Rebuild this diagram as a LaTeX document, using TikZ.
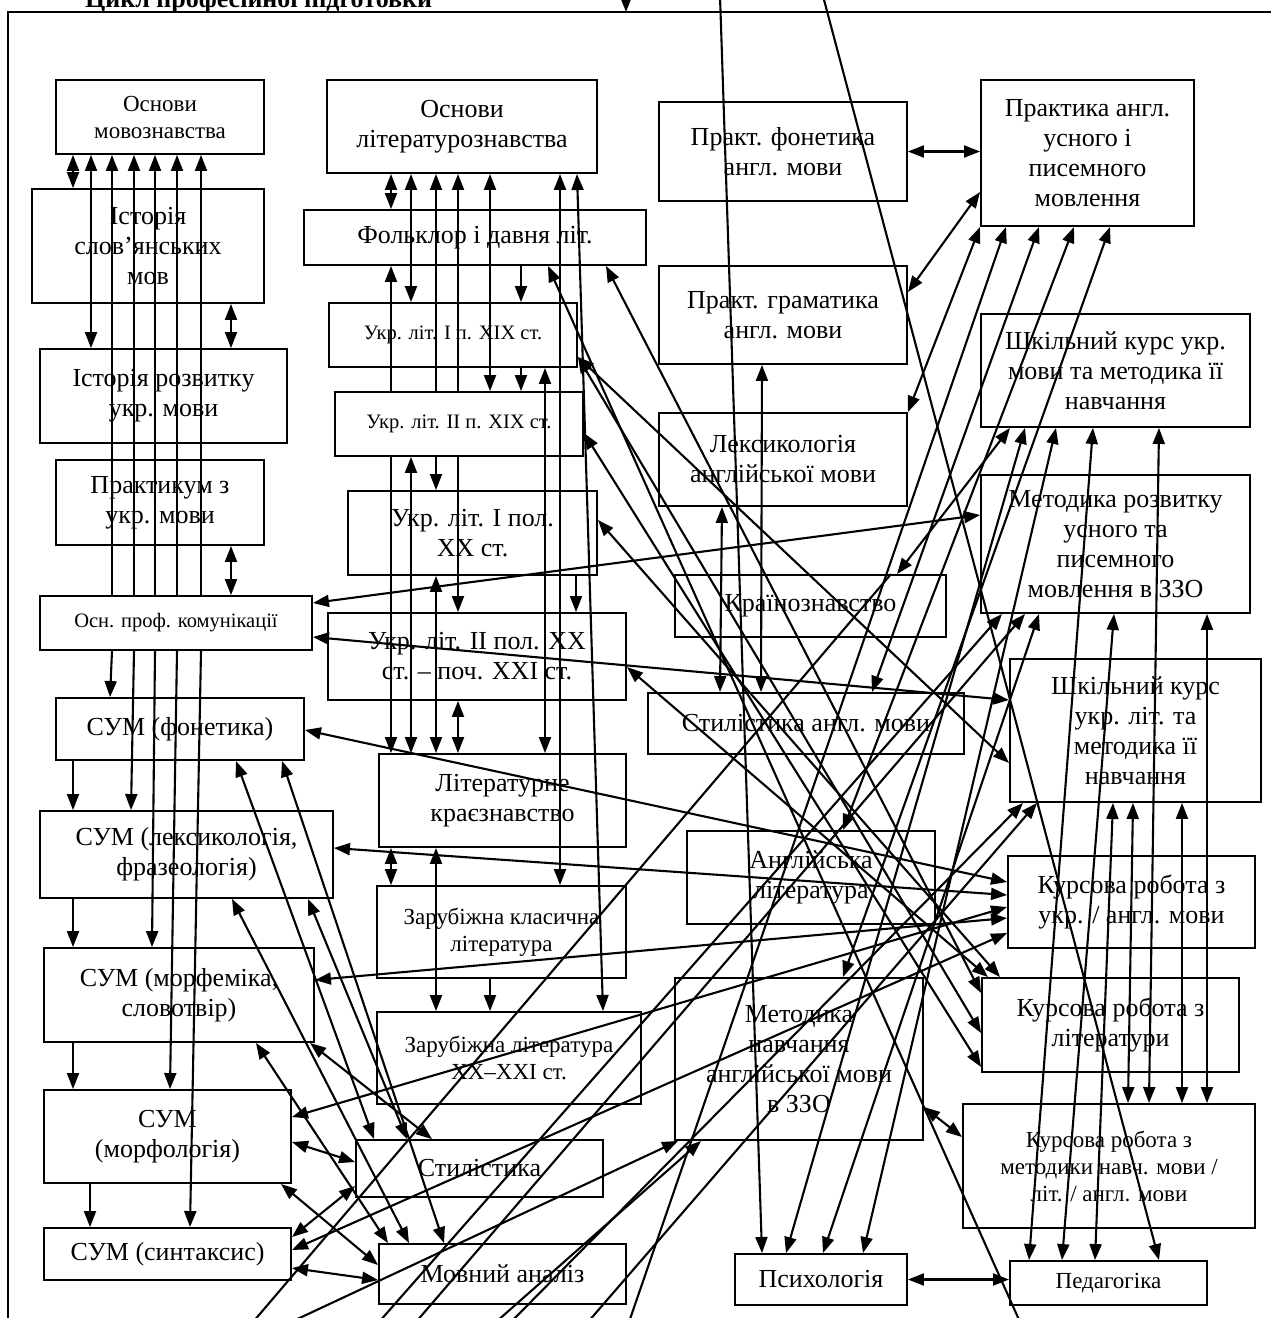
\documentclass[tikz,border=0pt]{standalone}
\usepackage{fontspec}
\setmainfont{Liberation Serif}
\usetikzlibrary{arrows.meta}
\tikzstyle{box}=[draw,line width=1.9pt,align=center,inner sep=1pt,font=\fontsize{26}{30}\selectfont]
\tikzstyle{mid}=[font=\fontsize{23}{27}\selectfont]
\tikzstyle{sml}=[font=\fontsize{20.5}{25}\selectfont]
\tikzstyle{link}=[line width=2.1pt,>={Triangle[length=16pt,width=12pt]}]

\begin{document}
\begin{tikzpicture}[x=1pt,y=-1pt]
\useasboundingbox (0,0) rectangle (1271,1318);

% frame and title
\draw[line width=1.9pt] (8,1330) -- (8,12) -- (1280,12);
\node[anchor=base west,inner sep=0pt,font=\bfseries\fontsize{26}{30}\selectfont] (title) at (85,7) {Цикл професійної підготовки};

% language column
\node[box,mid,minimum width=208pt,minimum height=74pt] (om) at (160,117) {Основи\\мовознавства};
\node[box,minimum width=232pt,minimum height=114pt] (ism) at (148,246) {Історія\\слов’янських\\мов};
\node[box,minimum width=247pt,minimum height=94pt] (ir) at (163.5,396) {Історія розвитку\\укр. мови};
\node[box,minimum width=208pt,minimum height=85pt] (pr) at (160,502.5) {Практикум з\\укр. мови};
\node[box,sml,fill=white,minimum width=272pt,minimum height=54pt] (opk) at (176,623) {Осн. проф. комунікації};
\node[box,minimum width=248pt,minimum height=62pt] (sfon) at (180,729) {СУМ (фонетика)};
\node[box,minimum width=293pt,minimum height=87pt] (slex) at (186.5,854.5) {СУМ (лексикологія,\\фразеологія)};
\node[box,minimum width=270pt,minimum height=94pt] (smfm) at (179,995) {СУМ (морфеміка,\\словотвір)};
\node[box,minimum width=247pt,minimum height=93pt] (smrf) at (167.5,1136.5) {СУМ\\(морфологія)};
\node[box,minimum width=247pt,minimum height=52pt] (ssyn) at (167.5,1254) {СУМ (синтаксис)};

% literature column
\node[box,minimum width=270pt,minimum height=93pt] (ol) at (462,126.5) {Основи\\літературознавства};
\node[box,minimum width=342pt,minimum height=55pt] (folk) at (475,237.5) {Фольклор і давня літ.};
\node[box,sml,minimum width=248pt,minimum height=64pt] (u19a) at (453,335) {Укр. літ. I п. XIX ст.};
\node[box,sml,minimum width=248pt,minimum height=64pt] (u19b) at (459,424) {Укр. літ. II п. XIX ст.};
\node[box,minimum width=249pt,minimum height=84pt] (u20a) at (472.5,533) {Укр. літ. I пол.\\XX ст.};
\node[box,minimum width=298pt,minimum height=87pt] (u20b) at (477,656.5) {Укр. літ. II пол. XX\\ст. – поч. XXI ст.};
\node[box,minimum width=247pt,minimum height=93pt] (lk) at (502.5,800.5) {Літературне\\краєзнавство};
\node[box,mid,minimum width=249pt,minimum height=92pt] (zkl) at (501.5,932) {Зарубіжна класична\\література};
\node[box,mid,minimum width=264pt,minimum height=92pt] (zxx) at (509,1058) {Зарубіжна література\\XX–XXI ст.};
\node[box,minimum width=247pt,minimum height=57pt] (styl) at (479.5,1168.5) {Стилістика};
\node[box,minimum width=247pt,minimum height=60pt] (ma) at (502.5,1274) {Мовний аналіз};

% english column
\node[box,minimum width=248pt,minimum height=99pt] (pf) at (783,151.5) {Практ. фонетика\\англ. мови};
\node[box,minimum width=248pt,minimum height=98pt] (pg) at (783,315) {Практ. граматика\\англ. мови};
\node[box,minimum width=248pt,minimum height=93pt] (lex) at (783,459.5) {Лексикологія\\англійської мови};
\node[box,minimum width=271pt,minimum height=62pt] (kr) at (810.5,606) {Країнознавство};
\node[box,minimum width=316pt,minimum height=61pt] (sa) at (806,723.5) {Стилістика англ. мови};
\node[box,minimum width=248pt,minimum height=93pt] (al) at (811,877.5) {Англійська\\література};
\node[box,minimum width=248pt,minimum height=162pt] (mn) at (799,1059) {Методика\\навчання\\англійської мови\\в ЗЗО};
\node[box,minimum width=172pt,minimum height=51pt] (psy) at (821,1279.5) {Психологія};

% methods column
\node[box,minimum width=213pt,minimum height=146pt] (pa) at (1087.5,153) {Практика англ.\\усного і\\писемного\\мовлення};
\node[box,minimum width=269pt,minimum height=113pt] (skm) at (1115.5,370.5) {Шкільний курс укр.\\мови та методика її\\навчання};
\node[box,minimum width=269pt,minimum height=138pt] (mr) at (1115.5,544) {Методика розвитку\\усного та\\писемного\\мовлення в ЗЗО};
\node[box,minimum width=251pt,minimum height=143pt] (skl) at (1135.5,730.5) {Шкільний курс\\укр. літ. та\\методика її\\навчання};
\node[box,minimum width=247pt,minimum height=92pt] (kua) at (1131.5,902) {Курсова робота з\\укр. / англ. мови};
\node[box,minimum width=257pt,minimum height=94pt] (kl) at (1110.5,1025) {Курсова робота з\\літератури};
\node[box,mid,minimum width=292pt,minimum height=124pt] (km) at (1109,1166) {Курсова робота з\\методики навч. мови /\\літ. / англ. мови};
\node[box,mid,minimum width=197pt,minimum height=44pt] (ped) at (1108.5,1283) {Педагогіка};

% free ends at the cut edges
\coordinate (t0) at (626,-4);
\coordinate (fr) at (626,12);
\coordinate (t1) at (720,-4);
\coordinate (t2) at (823,-4);
\coordinate (b1) at (253,1322);
\coordinate (b2) at (291,1322);
\coordinate (b3) at (379,1322);
\coordinate (b4) at (416,1322);
\coordinate (b5) at (496,1322);
\coordinate (b6) at (511,1322);
\coordinate (b7) at (588,1322);
\coordinate (b8) at (629,1322);
\coordinate (b9) at (1020,1322);

\draw[link,->] (t0) -- (fr);

% language column links
\draw[link,<->] (73,0 |- om.south) -- (73,0 |- ism.north);
\draw[link,<->] (91,0 |- om.south) -- (91,0 |- ir.north);
\foreach \xa/\xb/\t in {112/110/sfon,134/131/slex,155/152/smfm,177/170/smrf,201/190/ssyn}{
  \draw[link,<-] (\xa,0 |- om.south) -- (\xa,0 |- opk.north);
  \draw[link,->] (\xa,0 |- opk.south) -- (\xb,0 |- \t.north);
}
\draw[link,<->] (231,0 |- ism.south) -- (231,0 |- ir.north);
\draw[link,<->] (231,0 |- pr.south) -- (231,0 |- opk.north);
\draw[link,->] (73,0 |- sfon.south) -- (73,0 |- slex.north);
\draw[link,->] (73,0 |- slex.south) -- (73,0 |- smfm.north);
\draw[link,->] (73,0 |- smfm.south) -- (73,0 |- smrf.north);
\draw[link,->] (90,0 |- smrf.south) -- (90,0 |- ssyn.north);

% literature column links
\draw[link,<->] (391,0 |- ol.south) -- (391,0 |- folk.north);
\draw[link,<->] (411,0 |- ol.south) -- (411,0 |- u19a.north);
\draw[link,<-] (436,0 |- ol.south) -- (436,0 |- u19b.north);
\draw[link,->] (436,0 |- u19b.south) -- (436,0 |- u20a.north);
\draw[link,<-] (458,0 |- ol.south) -- (458,0 |- u19b.north);
\draw[link,->] (458,0 |- u19b.south) -- (458,0 |- u20b.north);
\draw[link,<->] (490,0 |- ol.south) -- (490,0 |- u19b.north);
\draw[link,<->] (560,0 |- ol.south) -- (560,0 |- zkl.north);
\draw[link,<->] (577,0 |- ol.south) -- (603,0 |- zxx.north);
\draw[link,<-] (391,0 |- folk.south) -- (391,0 |- u19b.north);
\draw[link,->] (391,0 |- u19b.south) -- (391,0 |- lk.north);
\draw[link,->] (521,0 |- folk.south) -- (521,0 |- u19a.north);
\draw[link,->] (521,0 |- u19a.south) -- (521,0 |- u19b.north);
\draw[link,<->] (545,0 |- u19a.south) -- (545,0 |- lk.north);
\draw[link,<->] (411,0 |- u19b.south) -- (411,0 |- lk.north);
\draw[link,<->] (436,0 |- u20a.south) -- (436,0 |- lk.north);
\draw[link,->] (576,0 |- u20a.south) -- (576,0 |- u20b.north);
\draw[link,<->] (458,0 |- u20b.south) -- (458,0 |- lk.north);
\draw[link,<->] (391,0 |- lk.south) -- (391,0 |- zkl.north);
\draw[link,<->] (436,0 |- lk.south) -- (436,0 |- zxx.north);
\draw[link,->] (490,0 |- zkl.south) -- (490,0 |- zxx.north);

% language courses to stylistics and analysis
\draw[link,<->] (236,0 |- sfon.south) -- (374,0 |- styl.north);
\draw[link,<->] (282,0 |- sfon.south) -- (444,0 |- ma.north);
\draw[link,<->] (232,0 |- slex.south) -- (409,0 |- ma.north);
\draw[link,<->] (308,0 |- slex.south) -- (407,0 |- styl.north);
\draw[link,<->] (256,0 |- smfm.south) -- (388,0 |- ma.north);
\draw[link,<->] (310,0 |- smfm.south) -- (432,0 |- styl.north);
\draw[link,<->] (smrf.east |- 0,1142) -- (styl.west |- 0,1162);
\draw[link,<->] (281,0 |- smrf.south) -- (ma.west |- 0,1265);
\draw[link,<->] (ssyn.east |- 0,1237) -- (styl.west |- 0,1186);
\draw[link,<->] (ssyn.east |- 0,1268) -- (ma.west |- 0,1280);

% language courses to course work
\draw[link,<->] (sfon.east |- 0,730) -- (kua.west |- 0,882);
\draw[link,<->] (slex.east |- 0,848) -- (kua.west |- 0,895);
\draw[link,<->] (smrf.east |- 0,1117) -- (kua.west |- 0,907);
\draw[link,<->] (smfm.east |- 0,980) -- (kua.west |- 0,918);
\draw[link,<->] (ssyn.east |- 0,1250) -- (kua.west |- 0,933);
\draw[link,<->] (opk.east |- 0,603) -- (mr.west |- 0,515);
\draw[link,<->] (opk.east |- 0,637) -- (skl.west |- 0,700);

% literature courses to course work
\draw[link,<->] (606,0 |- folk.south) -- (kl.west |- 0,993);
\draw[link,<->] (u19a.east |- 0,357) -- (kl.west |- 0,1033);
\draw[link,<->] (u19a.east |- 0,357) -- (skl.west |- 0,763);
\draw[link,<->] (u19b.east |- 0,433) -- (kl.west |- 0,1067);
\draw[link,<->] (u20a.east |- 0,520) -- (1000,0 |- kl.north);
\draw[link,<->] (u20b.east |- 0,667) -- (988,0 |- kl.north);

% english courses
\draw[link,<->] (pf.east) -- (pa.west |- pf.east);
\draw[link,<->] (pa.west |- 0,192) -- (pg.east |- 0,292);
\draw[link,<->] (980,0 |- pa.south) -- (lex.north east);
\draw[link,<->] (762,0 |- pg.south) -- (761,0 |- sa.north);
\draw[link,<->] (722,0 |- lex.south) -- (720,0 |- sa.north);
\draw[link,<->] (1039,0 |- pa.south) -- (872,0 |- sa.north);
\draw[link,<->] (1074,0 |- pa.south) -- (843,0 |- al.north);
\draw[link,<->] (1110,0 |- pa.south) -- (843,0 |- mn.north);
\draw[link,<->] (897,0 |- kr.north) -- (1010,0 |- skm.south);
\draw[link,<->] (mn.east |- 0,1107) -- (km.west |- 0,1137);

% psychology and pedagogy
\draw[link,<->] (786,0 |- psy.north) -- (1025,0 |- skm.south);
\draw[link,<->] (823,0 |- psy.north) -- (1039,0 |- mr.south);
\draw[link,<->] (863,0 |- psy.north) -- (1056,0 |- skm.south);
\draw[link,<->] (psy.east) -- (ped.west |- psy.east);
\draw[link,<->] (1093,0 |- skm.south) -- (1029,0 |- ped.north);
\draw[link,<->] (1114,0 |- mr.south) -- (1062,0 |- ped.north);
\draw[link,<->] (1113,0 |- skl.south) -- (1095,0 |- ped.north);
\draw[link,<->] (1159,0 |- skm.south) -- (1149,0 |- km.north);
\draw[link,<->] (1133,0 |- skl.south) -- (1128,0 |- km.north);
\draw[link,<->] (1182,0 |- skl.south) -- (1182,0 |- km.north);
\draw[link,<->] (1207,0 |- mr.south) -- (1207,0 |- km.north);

% lines from outside the cut
\draw[link,->] (t1) -- (762,0 |- psy.north);
\draw[link,->] (t2) -- (1159,0 |- ped.north);
\draw[link,->] (b9) -- (548,0 |- folk.south);
\draw[link] (b1) -- (891,0 |- kr.north);
\draw[link,->] (b2) -- (678,0 |- mn.south);
\draw[link,->] (b5) -- (701,0 |- mn.south);
\draw[link,->] (b3) -- (1002,0 |- mr.south);
\draw[link,->] (b4) -- (1025,0 |- mr.south);
\draw[link,->] (b6) -- (1023,0 |- skl.south);
\draw[link,->] (b7) -- (1037,0 |- skl.south);
\draw[link,->] (b8) -- (1006,0 |- pa.south);

\end{tikzpicture}
\end{document}
